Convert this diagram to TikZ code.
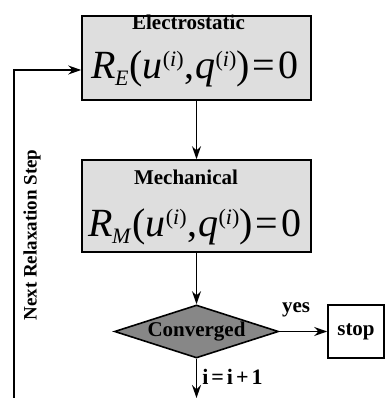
\documentclass[tikz,border=0pt]{standalone}
\usepackage{fontspec}
\setmainfont{Liberation Serif}
\usetikzlibrary{arrows.meta,shapes.geometric,positioning}

\newcommand{\supi}{\raisebox{12pt}{\fontsize{22}{22}\selectfont(\textit{i})}}
\newcommand{\resid}[1]{\fontsize{40}{44}\selectfont\textit{R}\kern-1pt\raisebox{-7pt}{\fontsize{22}{22}\selectfont\textit{#1}}\kern1pt(\textit{u}\supi\kern1pt,\kern1pt\textit{q}\supi)\kern3pt=\kern3pt0}

\begin{document}
\begin{tikzpicture}[x=1pt, y=1pt,
  box/.style={draw, line width=1.6pt, fill=black!13, minimum width=229pt, inner sep=0pt},
  lbl/.style={font=\fontsize{21}{24}\selectfont\bfseries, inner sep=0pt},
  eqn/.style={anchor=base, inner sep=0pt},
  decision/.style={diamond, draw, line width=1.6pt, fill=black!47, aspect=3.1, inner sep=0pt, minimum width=164pt, minimum height=53pt, font=\fontsize{21}{24}\selectfont\bfseries},
  stopbox/.style={draw, line width=1.6pt, minimum width=56pt, minimum height=53pt, font=\fontsize{21}{24}\selectfont\bfseries},
  arrow/.style={-{Stealth[length=13pt,width=9pt]}, line width=1.6pt}
]
\useasboundingbox (0,0) rectangle (385,398);

\node[box, minimum height=84pt] at (196.5,340) (elec) {};
\node[lbl, anchor=base] at (188.5,368) (electitle) {Electrostatic};
\node[eqn] at (195,319) (eleceq) {\resid{E}};

\node[box, minimum height=92pt] at (196.5,192) (mech) {};
\node[lbl, anchor=base] at (186,213) (mechtitle) {Mechanical};
\node[eqn] at (195,161) (mecheq) {\resid{M}};

\node[decision] at (196.5,66.5) (conv) {Converged};
\node[stopbox] at (356,66.5) (stop) {stop};

\coordinate (next) at (196.5,0);
\coordinate (loop) at (14,0);

\draw[arrow] (elec) -- (mech);
\draw[arrow] (mech) -- (conv);
\draw[arrow] (conv) -- node[lbl, pos=0.35, above=14pt] {yes} (stop);
\draw[arrow] (conv) -- node[lbl, pos=0.47, right=5pt, font=\fontsize{22}{24}\selectfont\bfseries] {i\kern3pt=\kern3pt i\kern3pt+\kern3pt1} (next);
\draw[arrow] (loop) |- ([yshift=-12pt]elec.west);

\node[lbl, rotate=90, font=\fontsize{19}{22}\selectfont\bfseries] at (32,163) (relax) {Next Relaxation Step};
\end{tikzpicture}
\end{document}
